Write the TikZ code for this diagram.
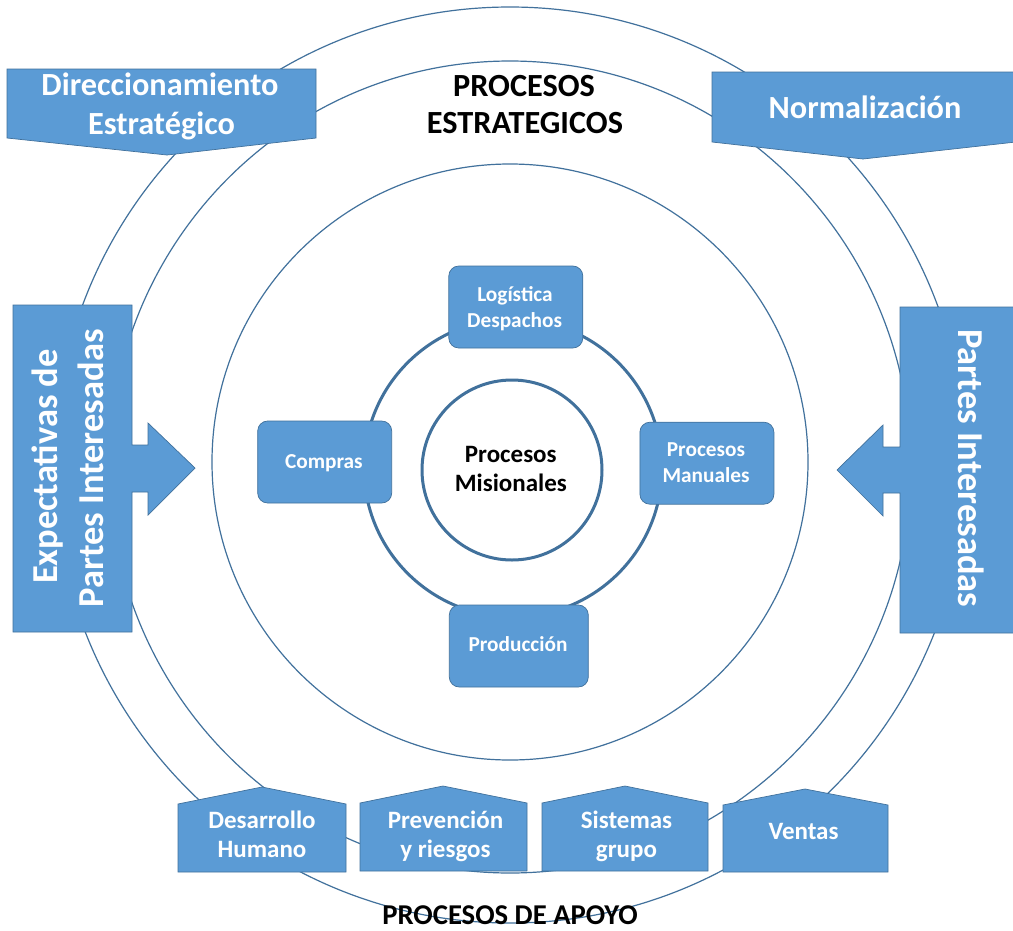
\documentclass[tikz,border=0pt]{standalone}
\usepackage{fontspec}
\setmainfont{Carlito}
\definecolor{boxblue}{HTML}{5B9BD5}
\definecolor{lineblue}{HTML}{41719C}
\begin{document}
\begin{tikzpicture}[x=1pt,y=-1pt,
  orbit/.style={draw=lineblue,line width=1.2pt},
  mring/.style={draw=lineblue,line width=3pt},
  blueshape/.style={fill=boxblue,draw=lineblue,line width=0.7pt},
  mbox/.style={blueshape,rounded corners=10pt,minimum height=82pt,inner sep=0pt},
  lbl/.style={anchor=base,inner sep=0pt,text=white},
  bigw/.style={lbl,font=\bfseries\fontsize{32.3}{32.3}\selectfont},
  sidew/.style={lbl,font=\bfseries\fontsize{36.5}{36.5}\selectfont},
  smallw/.style={lbl,font=\bfseries\fontsize{25}{25}\selectfont},
  misw/.style={lbl,font=\bfseries\fontsize{21.3}{21.3}\selectfont},
  title/.style={anchor=base,inner sep=0pt,text=black,font=\bfseries\fontsize{32.3}{32.3}\selectfont}]
\useasboundingbox (0,0) rectangle (1013,930);
\fill[white] (0,0) rectangle (1013,930);

% concentric orbits of the process map
\draw[orbit] (510,465) ellipse [x radius=456pt, y radius=458pt];
\draw[orbit] (510,467) ellipse [x radius=401pt, y radius=406pt];
\draw[orbit] (510,462) circle [radius=298pt];

% section titles
\node[title] (tE1) at (524,96.5) {PROCESOS};
\node[title] (tE2) at (525,133.5) {ESTRATEGICOS};
\node[title,font=\bfseries\fontsize{28.7}{28.7}\selectfont] (tA) at (510,924.5) {PROCESOS DE APOYO};

% strategic processes (downward pentagons)
\draw[blueshape] (7,69) -- (316,69) -- (316,138) -- (167,155) -- (7,138) -- cycle;
\node[bigw] (dir1) at (160,95) {Direccionamiento};
\node[bigw] (dir2) at (161.5,134) {Estratégico};
\draw[blueshape] (712,72) -- (1016,72) -- (1016,142) -- (863,159) -- (712,142) -- cycle;
\node[bigw] (norm) at (865,118) {Normalización};

% stakeholder arrows
\draw[blueshape] (13,305) -- (132,305) -- (132,445) -- (148,445) -- (148,423) -- (195,468)
  -- (148,515) -- (148,492) -- (132,492) -- (132,632) -- (13,632) -- cycle;
\node[sidew,rotate=90] (exp1) at (57,466.5) {Expectativas de};
\node[sidew,rotate=90] (exp2) at (103,468.5) {Partes Interesadas};
\draw[blueshape] (1016,307) -- (900,307) -- (900,447) -- (883,447) -- (883,425) -- (837,470)
  -- (883,516) -- (883,493) -- (900,493) -- (900,633) -- (1016,633) -- cycle;
\node[sidew,rotate=-90] (par) at (958,468.3) {Partes Interesadas};

% support processes (upward pentagons)
\draw[blueshape] (178,872) -- (178,804) -- (262,787) -- (346,804) -- (346,872) -- cycle;
\node[smallw] (des1) at (262,828.5) {Desarrollo};
\node[smallw] (des2) at (262,857.5) {Humano};
\draw[blueshape] (360,871) -- (360,803) -- (443,786) -- (527,803) -- (527,871) -- cycle;
\node[smallw] (pre1) at (445.5,828.5) {Prevención};
\node[smallw] (pre2) at (445.5,857) {y riesgos};
\draw[blueshape] (542,871) -- (542,803) -- (625,786) -- (708,803) -- (708,871) -- cycle;
\node[smallw] (sis1) at (626.5,828.5) {Sistemas};
\node[smallw] (sis2) at (626.5,857.3) {grupo};
\draw[blueshape] (723,872) -- (723,805) -- (805,789) -- (888,805) -- (888,872) -- cycle;
\node[smallw] (ven) at (803.5,839.3) {Ventas};

% mission processes cycle
\draw[mring] (513,468) circle [radius=149pt];
\node[mbox,minimum width=134pt] (blog) at (515.8,307) {};
\node[misw] (log1) at (515,301.7) {Logística};
\node[misw] (log2) at (514.6,327.3) {Despachos};
\node[mbox,minimum width=134pt] (bcom) at (324.7,462) {};
\node[misw] (com) at (323.9,468.3) {Compras};
\node[mbox,minimum width=134pt] (bman) at (706.9,463.2) {};
\node[misw] (man1) at (706,456) {Procesos};
\node[misw] (man2) at (706,482.7) {Manuales};
\node[mbox,minimum width=139pt] (bpro) at (518.8,646) {};
\node[misw] (pro) at (518,651) {Producción};
\node[mring,circle,fill=white,minimum size=180pt,inner sep=0pt] (mis) at (512,470) {};
\node[title,font=\bfseries\fontsize{25}{25}\selectfont] (mis1) at (510.8,462.3) {Procesos};
\node[title,font=\bfseries\fontsize{25}{25}\selectfont] (mis2) at (510.8,491.7) {Misionales};
\end{tikzpicture}
\end{document}
